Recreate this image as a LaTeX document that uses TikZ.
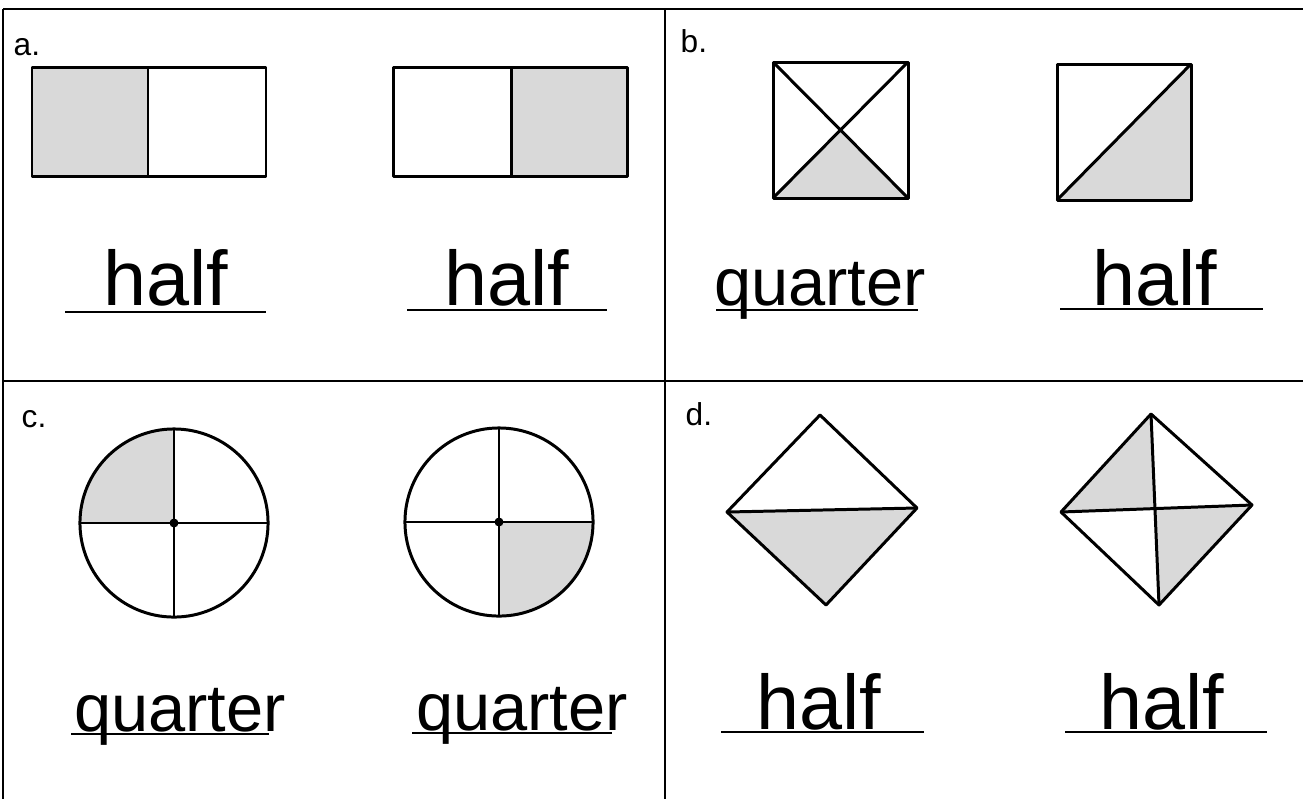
\documentclass[tikz,border=0pt]{standalone}
\usepackage{fontspec}
\setmainfont{Liberation Sans}
\usetikzlibrary{calc}

\tikzset{
  frame/.style={line width=0.6pt},
  outline/.style={line width=0.85pt},
  part/.style={fill=gray!30},
  tag/.style={anchor=base west, inner sep=0pt, font=\fontsize{9}{10}\selectfont},
  halfword/.style={anchor=base, inner sep=0pt, font=\fontsize{22}{24}\selectfont},
  quarterword/.style={anchor=base, inner sep=0pt, font=\fontsize{19}{21}\selectfont},
  rule/.style={line width=0.7pt}
}

\begin{document}
\begin{tikzpicture}[x=0.01cm, y=-0.01cm, line join=round]
  \useasboundingbox (0,0) rectangle (1303,799);

  % grid of the four exercises
  \draw[frame] (3,9) -- (1303,9) (3,381) -- (1303,381);
  \draw[frame] (3,9) -- (3,799) (665,9) -- (665,799);

  % a.
  \node[tag] (taga) at (13,55) {a.};
  \coordinate (RA1) at (32,67);
  \coordinate (SA1) at (266,176);
  \fill[part] (RA1) rectangle (148,176);
  \draw[outline] (RA1) rectangle (SA1) (148,67) -- (148,176);
  \coordinate (RA2) at (393,67);
  \coordinate (SA2) at (627,176);
  \fill[part] (511,67) rectangle (SA2);
  \draw[outline] (RA2) rectangle (SA2) (511,67) -- (511,176);

  \node[halfword] (wa1) at (166,305) {half};
  \draw[rule] (65,312) -- (266,312);
  \node[halfword] (wa2) at (507,305) {half};
  \draw[rule] (407,310) -- (607,310);

  % b.
  \node[tag] (tagb) at (680,52) {b.};
  \coordinate (NW1) at (773,62);
  \coordinate (NE1) at (908,62);
  \coordinate (SE1) at (908,198);
  \coordinate (SW1) at (773,198);
  \coordinate (X1) at ($(NW1)!0.5!(SE1)$);
  \fill[part] (SW1) -- (SE1) -- (X1) -- cycle;
  \draw[outline] (NW1) rectangle (SE1);
  \draw[outline] (NW1) -- (SE1) (NE1) -- (SW1);

  \coordinate (NW2) at (1057,64);
  \coordinate (NE2) at (1191,64);
  \coordinate (SE2) at (1191,200);
  \coordinate (SW2) at (1057,200);
  \fill[part] (SW2) -- (SE2) -- (NE2) -- cycle;
  \draw[outline] (NW2) rectangle (SE2);
  \draw[outline] (SW2) -- (NE2);

  \node[quarterword] (wb1) at (820,305) {quarter};
  \draw[rule] (716,310) -- (918,310);
  \node[halfword] (wb2) at (1155,305) {half};
  \draw[rule] (1060,309) -- (1263,309);

  % c.
  \node[tag] (tagc) at (21,427) {c.};
  \coordinate (O1) at (174,523);
  \fill[part] (O1) -- ++(-0.94cm,0) arc (180:90:0.94cm) -- cycle;
  \draw[outline] (O1) circle [radius=0.94cm];
  \draw[rule] (O1) ++(-0.94cm,0) -- ++(1.88cm,0);
  \draw[rule] (O1) ++(0,0.94cm) -- ++(0,-1.88cm);
  \fill (O1) circle [radius=0.045cm];

  \coordinate (O2) at (499,522);
  \fill[part] (O2) -- ++(0.94cm,0) arc (0:-90:0.94cm) -- cycle;
  \draw[outline] (O2) circle [radius=0.94cm];
  \draw[rule] (O2) ++(-0.94cm,0) -- ++(1.88cm,0);
  \draw[rule] (O2) ++(0,0.94cm) -- ++(0,-1.88cm);
  \fill (O2) circle [radius=0.045cm];

  \node[quarterword] (wc1) at (180,731) {quarter};
  \draw[rule] (71,734) -- (269,734);
  \node[quarterword] (wc2) at (522,730) {quarter};
  \draw[rule] (412,733) -- (612,733);

  % d.
  \node[tag] (tagd) at (685,425) {d.};
  \coordinate (T1) at (820,415);
  \coordinate (L1) at (727,512);
  \coordinate (R1) at (917,508);
  \coordinate (B1) at (826,605);
  \fill[part] (L1) -- (R1) -- (B1) -- cycle;
  \draw[outline] (T1) -- (R1) -- (B1) -- (L1) -- cycle;
  \draw[outline] (L1) -- (R1);

  \coordinate (T2) at (1151,414);
  \coordinate (L2) at (1061,512);
  \coordinate (R2) at (1252,505);
  \coordinate (B2) at (1159,605);
  \coordinate (X2) at (intersection of T2--B2 and L2--R2);
  \fill[part] (T2) -- (L2) -- (X2) -- cycle;
  \fill[part] (X2) -- (R2) -- (B2) -- cycle;
  \draw[outline] (T2) -- (R2) -- (B2) -- (L2) -- cycle;
  \draw[outline] (T2) -- (B2) (L2) -- (R2);

  \node[halfword] (wd1) at (819,729) {half};
  \draw[rule] (721,732) -- (924,732);
  \node[halfword] (wd2) at (1162,729) {half};
  \draw[rule] (1065,732) -- (1267,732);
\end{tikzpicture}
\end{document}
